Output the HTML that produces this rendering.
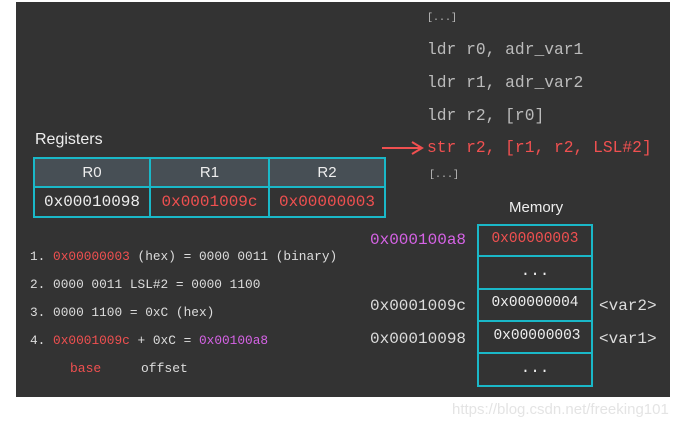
<!DOCTYPE html>
<html><head><style>
body{margin:0;width:688px;height:429px;background:#fff;position:relative;overflow:hidden;font-family:"Liberation Mono",monospace}
.p{position:absolute;left:16px;top:2px;width:654px;height:395px;background:#333}
.t{position:absolute;white-space:pre;color:#ddd;line-height:1}
.r{color:#f05050}.m{color:#d663e6}
.b{position:absolute;border:2px solid #1ab8c8;box-sizing:border-box}
.c{position:absolute;display:flex;align-items:center;justify-content:center;white-space:pre}
</style></head><body>
<div class="p"></div>
<div class="t" style="left:427px;top:14px;font-size:10px;color:#bbb">[...]</div>
<div class="t" style="left:427px;top:42px;font-size:16.3px;color:#bbb">ldr r0, adr_var1</div>
<div class="t" style="left:427px;top:75px;font-size:16.3px;color:#bbb">ldr r1, adr_var2</div>
<div class="t" style="left:427px;top:108px;font-size:16.3px;color:#bbb">ldr r2, [r0]</div>
<div class="t r" style="left:427px;top:140px;font-size:16.3px">str r2, [r1, r2, LSL#2]</div>
<div class="t" style="left:429px;top:171px;font-size:10px;color:#bbb">[...]</div>
<svg style="position:absolute;left:380px;top:140px" width="50" height="20"><line x1="2" y1="8" x2="40" y2="8" stroke="#f05050" stroke-width="2"/><path d="M32 2 L42 8 L32 14" fill="none" stroke="#f05050" stroke-width="2"/></svg>
<div class="t" style="left:35px;top:132px;font-size:16px;font-family:'Liberation Sans',sans-serif;color:#eee">Registers</div>
<div style="position:absolute;left:33px;top:157px;width:353px;height:29px;background:#474f55"></div>
<div class="b" style="left:33px;top:157px;width:118px;height:31px"></div>
<div class="b" style="left:149px;top:157px;width:121px;height:31px"></div>
<div class="b" style="left:268px;top:157px;width:118px;height:31px"></div>
<div class="b" style="left:33px;top:186px;width:118px;height:32px"></div>
<div class="b" style="left:149px;top:186px;width:121px;height:32px"></div>
<div class="b" style="left:268px;top:186px;width:118px;height:32px"></div>
<div class="c" style="left:33px;top:157px;width:118px;height:30px;color:#eee;font-size:15px;font-family:'Liberation Sans',sans-serif">R0</div>
<div class="c" style="left:149px;top:157px;width:121px;height:30px;color:#eee;font-size:15px;font-family:'Liberation Sans',sans-serif">R1</div>
<div class="c" style="left:268px;top:157px;width:118px;height:30px;color:#eee;font-size:15px;font-family:'Liberation Sans',sans-serif">R2</div>
<div class="c" style="left:33px;top:187px;width:118px;height:30px;color:#eee;font-size:16px">0x00010098</div>
<div class="c r" style="left:149px;top:187px;width:121px;height:30px;font-size:16px">0x0001009c</div>
<div class="c r" style="left:268px;top:187px;width:118px;height:30px;font-size:16px">0x00000003</div>
<div class="t" style="left:30px;top:251px;font-size:12.8px">1. <span class="r">0x00000003</span> (hex) = 0000 0011 (binary)</div>
<div class="t" style="left:30px;top:279px;font-size:12.8px">2. 0000 0011 LSL#2 = 0000 1100</div>
<div class="t" style="left:30px;top:307px;font-size:12.8px">3. 0000 1100 = 0xC (hex)</div>
<div class="t" style="left:30px;top:335px;font-size:12.8px">4. <span class="r">0x0001009c</span> + 0xC = <span class="m">0x00100a8</span></div>
<div class="t r" style="left:70px;top:362px;font-size:13px">base</div>
<div class="t" style="left:141px;top:362px;font-size:13px">offset</div>
<div class="t" style="left:509px;top:200px;font-size:15px;font-family:'Liberation Sans',sans-serif;color:#eee">Memory</div>
<div class="b" style="left:477px;top:224px;width:116px;height:33px"></div>
<div class="b" style="left:477px;top:255px;width:116px;height:35px"></div>
<div class="b" style="left:477px;top:288px;width:116px;height:34px"></div>
<div class="b" style="left:477px;top:320px;width:116px;height:34px"></div>
<div class="b" style="left:477px;top:352px;width:116px;height:35px"></div>
<div class="c r" style="left:477px;top:224px;width:116px;height:30px;font-size:14.5px">0x00000003</div>
<div class="c" style="left:477px;top:255px;width:116px;height:32px;font-size:16px;color:#eee">...</div>
<div class="c" style="left:477px;top:288px;width:116px;height:30px;font-size:14.5px;color:#eee">0x00000004</div>
<div class="c" style="left:479px;top:320px;width:116px;height:32px;font-size:14.5px;color:#eee">0x00000003</div>
<div class="c" style="left:477px;top:353px;width:116px;height:30px;font-size:16px;color:#eee">...</div>
<div class="t m" style="left:370px;top:232px;font-size:16px">0x000100a8</div>
<div class="t" style="left:370px;top:298px;font-size:16px">0x0001009c</div>
<div class="t" style="left:370px;top:331px;font-size:16px">0x00010098</div>
<div class="t" style="left:599px;top:298px;font-size:16px">&lt;var2&gt;</div>
<div class="t" style="left:599px;top:331px;font-size:16px">&lt;var1&gt;</div>
<div class="t" style="left:452px;top:402px;font-size:15px;font-family:'Liberation Sans',sans-serif;color:#e4e4e4">https://blog.csdn.net/freeking101</div>
</body></html>
